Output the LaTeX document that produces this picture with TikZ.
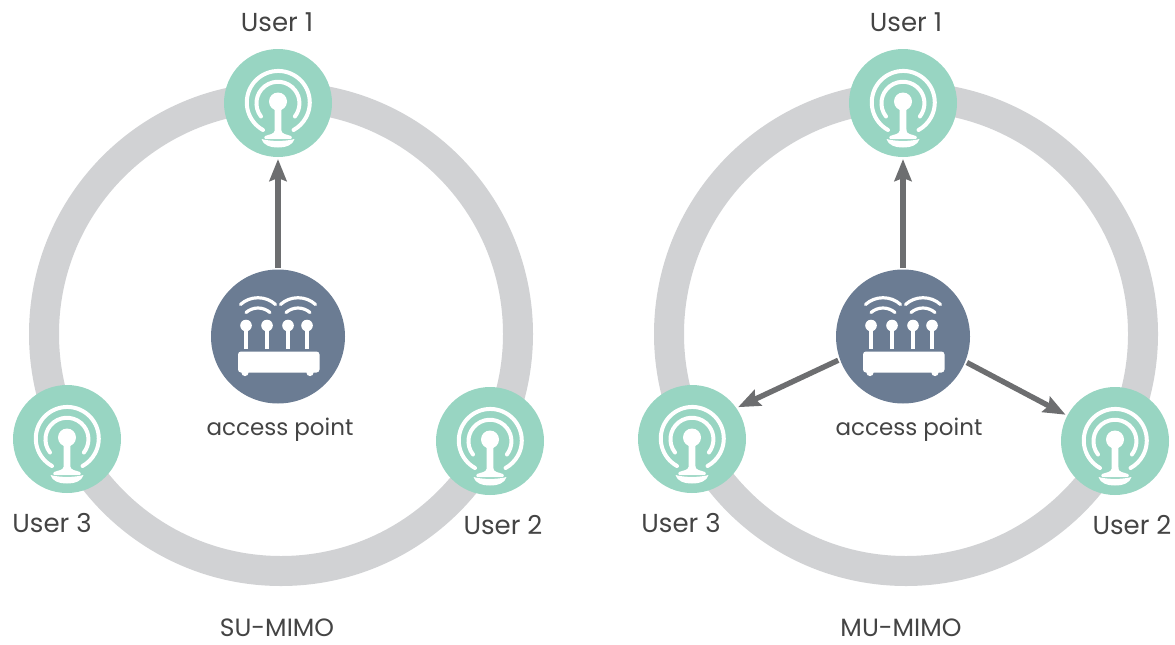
\documentclass[tikz,border=0pt]{standalone}
\usepackage{fontspec}
\setmainfont{Poppins}
\usetikzlibrary{arrows.meta}
\definecolor{ringgray}{HTML}{D1D2D4}
\definecolor{usergreen}{HTML}{98D5C2}
\definecolor{apblue}{HTML}{6B7C93}
\definecolor{arrowgray}{HTML}{6D6E70}
\definecolor{textgray}{HTML}{444444}
\tikzset{
  x=1pt,y=-1pt,
  ring/.style={draw=ringgray,line width=30pt,fill=none},
  userdot/.style={circle,fill=usergreen,minimum size=108pt,inner sep=0pt,outer sep=0pt},
  apdot/.style={circle,fill=apblue,minimum size=134pt,inner sep=0pt,outer sep=0pt},
  lbl/.style={text=textgray,font=\fontsize{23}{25}\selectfont,inner sep=0pt,anchor=center},
  userlbl/.style={lbl,font=\fontsize{26}{27}\selectfont},
  titlelbl/.style={lbl,font=\fontsize{25}{26}\selectfont},
  link/.style={draw=arrowgray,line width=5.4pt,shorten <=2pt,shorten >=2pt,-{Stealth[length=22pt,width=17pt,inset=3pt]}},
  wave/.style={draw=white,line width=4pt,line cap=round,fill=none},
  thinwave/.style={draw=white,line width=3.2pt,line cap=round,fill=none},
  usericon/.pic={
    \fill[white] (0,-1.5) circle[radius=9];
    \draw[wave] (-17,13.5) arc[start angle=218,end angle=-38,radius=21.5,y radius=-21.5];
    \draw[wave] (-15,27) arc[start angle=241,end angle=-61,radius=31.5,y radius=-31.5];
    \fill[white] (-3.3,6) -- (3.3,6) -- (3.5,28) .. controls (3.7,31) and (9,31.5) .. (13,33)
      .. controls (14,34) and (14,35) .. (13,36) -- (-13,36) .. controls (-14,35) and (-14,34) .. (-13,33)
      .. controls (-9,31.5) and (-3.7,31) .. (-3.5,28) -- cycle;
    \fill[white] (-16.5,36) .. controls (-8,38.5) and (8,38.5) .. (16.5,36)
      .. controls (15,42) and (8,44.5) .. (0,44.5) .. controls (-8,44.5) and (-15,42) .. (-16.5,36) -- cycle;
  },
  apicon/.pic={
    \fill[white,rounded corners=3pt] (-40,15) rectangle (41.5,36);
    \foreach \fx in {-33,32}{\fill[white] (\fx,36) circle[radius=3.6];}
    \foreach \ax in {-32,-11,10,29}{
      \fill[white] (\ax,-11) circle[radius=5.8];
      \draw[white,line width=3.4pt] (\ax,-10) -- (\ax,12);
    }
    \foreach \wx in {-20,20}{
      \draw[thinwave] (\wx-17.5,-32) .. controls (\wx-8,-41) and (\wx+8,-41) .. (\wx+17.5,-32);
      \draw[thinwave] (\wx-12,-24) .. controls (\wx-5,-30) and (\wx+5,-30) .. (\wx+12,-24);
    }
  },
}
\begin{document}
\begin{tikzpicture}
\useasboundingbox (0,0) rectangle (1175,645);
% left panel
\draw[ring] (281,334) circle[radius=237];
\node[apdot] (apL) at (278,336.5) {};
\node[userdot] (uL1) at (278,103) {};
\node[userdot] (uL2) at (490,441) {};
\node[userdot] (uL3) at (67,439) {};
\pic at (apL) {apicon};
\pic at (uL1) {usericon};
\pic at (uL2) {usericon};
\pic at (uL3) {usericon};
\draw[link] (apL) -- (uL1);
\node[userlbl] (tL1) at (277,22) {User 1};
\node[userlbl] (tL2) at (503,525) {User 2};
\node[userlbl] (tL3) at (52,523) {User 3};
\node[lbl] (tLa) at (280,430) {access point};
\node[titlelbl] (tLt) at (277,628) {SU-MIMO};
% right panel
\draw[ring] (906,334) circle[radius=237];
\node[apdot] (apR) at (903,336.5) {};
\node[userdot] (uR1) at (903,103) {};
\node[userdot] (uR2) at (1115,441) {};
\node[userdot] (uR3) at (692,439) {};
\pic at (apR) {apicon};
\pic at (uR1) {usericon};
\pic at (uR2) {usericon};
\pic at (uR3) {usericon};
\draw[link] (apR) -- (uR1);
\draw[link] (apR.-22) -- (uR2.152);
\draw[link] (apR.200.6) -- (uR3.35);
\node[userlbl] (tR1) at (906,22) {User 1};
\node[userlbl] (tR2) at (1132,525) {User 2};
\node[userlbl] (tR3) at (681,523) {User 3};
\node[lbl] (tRa) at (909,430) {access point};
\node[titlelbl] (tRt) at (901,628) {MU-MIMO};
\end{tikzpicture}
\end{document}
